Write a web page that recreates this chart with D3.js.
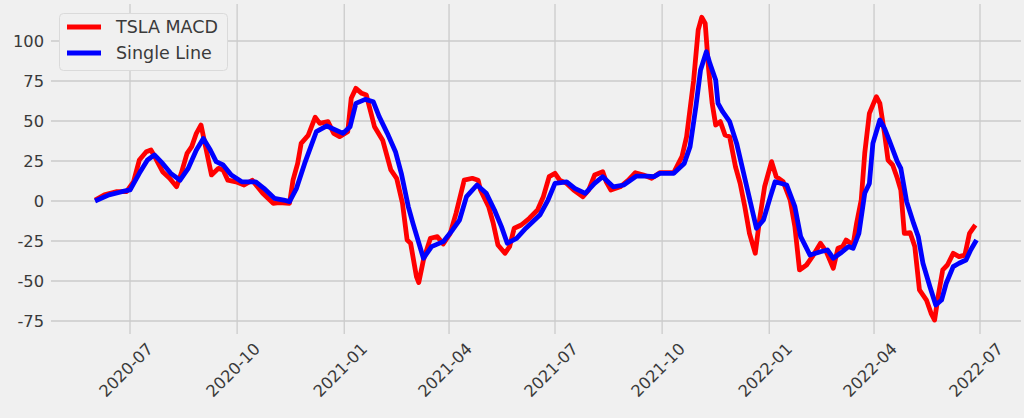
<!DOCTYPE html>
<html><head><meta charset="utf-8">
<script src="https://cdn.jsdelivr.net/npm/d3@7"></script>
<style>html,body{margin:0;padding:0;background:#f0f0f0;}svg{display:block;}</style>
</head><body><svg id="chart" width="1024" height="418"></svg>
<script>
const seriesNames = ["TSLA MACD", "Single Line"];
const seriesColors = ["#ff0000", "#0000ff"];

const macdDates = [
"2020-06-01","2020-06-09","2020-06-19","2020-06-28","2020-07-04","2020-07-09","2020-07-15","2020-07-19","2020-07-23","2020-07-29",
"2020-08-04","2020-08-10","2020-08-14","2020-08-19","2020-08-23","2020-08-27","2020-08-31","2020-09-03","2020-09-09","2020-09-15",
"2020-09-19","2020-09-23","2020-09-30","2020-10-07","2020-10-14","2020-10-23","2020-11-01","2020-11-06","2020-11-15","2020-11-18",
"2020-11-22","2020-11-25","2020-12-01","2020-12-07","2020-12-11","2020-12-18","2020-12-23","2020-12-28","2021-01-04","2021-01-07",
"2021-01-11","2021-01-16","2021-01-20","2021-01-27","2021-02-03","2021-02-10","2021-02-15","2021-02-20","2021-02-24","2021-02-27",
"2021-03-04","2021-03-06","2021-03-10","2021-03-16","2021-03-22","2021-03-27","2021-04-02","2021-04-07","2021-04-14","2021-04-21",
"2021-04-26","2021-04-28","2021-05-05","2021-05-09","2021-05-13","2021-05-19","2021-05-23","2021-05-27","2021-06-02","2021-06-09",
"2021-06-16","2021-06-21","2021-06-26","2021-07-01","2021-07-05","2021-07-11","2021-07-17","2021-07-25","2021-07-30","2021-08-04",
"2021-08-11","2021-08-14","2021-08-18","2021-08-26","2021-09-02","2021-09-08","2021-09-15","2021-09-22","2021-09-29","2021-10-11",
"2021-10-18","2021-10-22","2021-10-28","2021-11-01","2021-11-04","2021-11-07","2021-11-10","2021-11-13","2021-11-16","2021-11-20",
"2021-11-24","2021-11-28","2021-12-03","2021-12-07","2021-12-11","2021-12-15","2021-12-20","2021-12-24","2021-12-28","2022-01-03",
"2022-01-07","2022-01-13","2022-01-19","2022-01-23","2022-01-27","2022-02-02","2022-02-07","2022-02-14","2022-02-19","2022-02-25",
"2022-03-01","2022-03-05","2022-03-08","2022-03-14","2022-03-17","2022-03-21","2022-03-24","2022-03-28","2022-04-03","2022-04-06",
"2022-04-10","2022-04-13","2022-04-17","2022-04-21","2022-04-24","2022-04-27","2022-05-02","2022-05-06","2022-05-10","2022-05-16",
"2022-05-20","2022-05-23","2022-05-26","2022-05-30","2022-06-03","2022-06-08","2022-06-13","2022-06-18","2022-06-22","2022-06-27"];
const macdValues = [
0.6,3.8,5.8,5.8,12,25.6,30.8,31.9,26.7,18.3,
14.2,8.9,17.3,29.8,34,42.3,47.5,37,16.3,20.4,
19.4,13,12,10,13,4.8,-1.4,-1,-1.4,13,
23.5,36,41,52.3,48.5,49.6,42.3,40.2,43.3,64.2,
70.4,67.3,66.2,46.4,38,19.4,14.2,-1.4,-24.4,-26.4,
-47.3,-51,-36.9,-23.3,-22.3,-26.9,-20.2,-7.7,13,14.2,
13,6.9,-3.5,-14,-27.5,-32.7,-28.5,-17,-15,-10.8,
-5.6,2.7,15.2,17.3,13,11,6.9,2.7,6.9,16.2,
18.3,12,6.9,8.9,13,17.7,16.2,14.2,17.7,17.7,
27.7,40.2,75,107,114.8,111,81.9,61,47.5,49.6,
41.2,40.2,21.4,11,-3.5,-20.2,-32.7,-10,8.9,24.6,
15.2,12,0.6,-16,-43.1,-40,-34.8,-26.4,-31.7,-42,
-29.6,-28.5,-24.4,-27.5,-14,0.6,29.8,54.8,65.2,61,
42.3,25.6,22.5,14.2,6.9,-20.2,-19.8,-28.5,-55.6,-61.9,
-70.2,-74.4,-59.8,-43.1,-40,-32.7,-34.8,-33.8,-20.2,-15];

const signalDates = [
"2020-06-01","2020-06-13","2020-06-24","2020-07-01","2020-07-09","2020-07-16","2020-07-22","2020-07-29","2020-08-05","2020-08-13",
"2020-08-20","2020-08-27","2020-09-02","2020-09-08","2020-09-13","2020-09-19","2020-09-26","2020-10-05","2020-10-17","2020-10-24",
"2020-11-02","2020-11-10","2020-11-15","2020-11-21","2020-11-28","2020-12-08","2020-12-17","2020-12-31","2021-01-06","2021-01-11",
"2021-01-19","2021-01-26","2021-01-31","2021-02-07","2021-02-14","2021-02-19","2021-02-25","2021-03-01","2021-03-10","2021-03-17",
"2021-03-27","2021-04-04","2021-04-10","2021-04-16","2021-04-25","2021-05-03","2021-05-10","2021-05-16","2021-05-21","2021-05-29",
"2021-06-06","2021-06-18","2021-06-25","2021-07-01","2021-07-11","2021-07-18","2021-07-27","2021-08-04","2021-08-11","2021-08-20",
"2021-08-29","2021-09-09","2021-09-18","2021-09-24","2021-09-29","2021-10-11","2021-10-20","2021-10-25","2021-10-30","2021-11-03",
"2021-11-08","2021-11-11","2021-11-16","2021-11-18","2021-11-22","2021-11-28","2021-12-04","2021-12-10","2021-12-16","2021-12-21",
"2021-12-27","2022-01-02","2022-01-06","2022-01-16","2022-01-23","2022-01-28","2022-02-05","2022-02-14","2022-02-20","2022-02-25",
"2022-03-03","2022-03-10","2022-03-14","2022-03-19","2022-03-24","2022-03-28","2022-03-31","2022-04-06","2022-04-10","2022-04-14",
"2022-04-21","2022-04-24","2022-04-29","2022-05-05","2022-05-09","2022-05-13","2022-05-19","2022-05-24","2022-05-29","2022-06-02",
"2022-06-08","2022-06-13","2022-06-19","2022-06-23","2022-06-28"];
const signalValues = [
0,3.8,5.8,6.9,17.3,25.6,28.8,23.5,17.3,13,
20.4,31.9,39,31.9,24.6,22.5,16.3,12,12,7.9,
1.7,0.6,-0.4,7.9,23.5,43.3,46.9,42.3,46.4,61,
63.5,62,52.7,42.3,30.8,17.3,-3.5,-14,-35.8,-28.5,
-25.4,-18.1,-11.9,2.7,10,4.8,-5.6,-16,-26.4,-23.3,
-17,-8.8,0.6,11,12,7.9,4.8,11,15.2,8.9,
10,15.6,15.6,15.2,17.3,17.3,23.5,34,59,81.9,
93.3,86,75.6,61,55.8,49.6,36,17.3,-1.4,-17,
-11.9,2.7,12,10,-3.5,-22.3,-33.8,-31.7,-30.6,-35.8,
-32.7,-28.5,-29.6,-20.2,4.8,11,36,50.6,45.4,38.1,
24.6,20.4,-0.4,-14,-22.3,-38.9,-53.6,-65,-61.9,-51.4,
-41,-38.9,-36.9,-30.6,-24.4];

const yTicks = [-75, -50, -25, 0, 25, 50, 75, 100];
const xTickDates = ["2020-07-01","2020-10-01","2021-01-01","2021-04-01","2021-07-01","2021-10-01","2022-01-01","2022-04-01","2022-07-01"];

const parse = d3.utcParse("%Y-%m-%d");
const fmt = d3.utcFormat("%Y-%m");
const svg = d3.select("#chart");
const W = 1024, H = 418;
const plot = {left: 51, right: 1021, top: 4, bottom: 334};

svg.append("rect").attr("width", W).attr("height", H).attr("fill", "#f0f0f0");

const x = d3.scaleUtc().domain([parse("2020-07-01"), parse("2022-07-01")]).range([130, 980]);
const y = d3.scaleLinear().domain([0, 100]).range([201, 41]);

const grid = svg.append("g");
grid.selectAll("line.h").data(yTicks).join("line")
  .attr("x1", plot.left).attr("x2", plot.right)
  .attr("y1", d => y(d)).attr("y2", d => y(d))
  .attr("stroke", "#cbcbcb").attr("stroke-width", 1.3);
grid.selectAll("line.v").data(xTickDates).join("line")
  .attr("x1", d => x(parse(d))).attr("x2", d => x(parse(d)))
  .attr("y1", plot.top).attr("y2", plot.bottom)
  .attr("stroke", "#cbcbcb").attr("stroke-width", 1.3);

const font = "DejaVu Sans, sans-serif";
svg.append("g").selectAll("text").data(yTicks).join("text")
  .attr("x", 44).attr("y", d => y(d))
  .attr("text-anchor", "end").attr("dominant-baseline", "central")
  .attr("font-family", font).attr("font-size", 16.3).attr("fill", "#3a3a3a")
  .text(d => d);

svg.append("g").selectAll("text").data(xTickDates).join("text")
  .attr("transform", d => `translate(${x(parse(d)) + 24},350) rotate(-45)`)
  .attr("text-anchor", "end")
  .attr("font-family", font).attr("font-size", 16.3).attr("fill", "#3a3a3a")
  .text(d => fmt(parse(d)));

const line = d3.line().x(d => x(d[0])).y(d => y(d[1]));
const macd = macdDates.map((d, i) => [parse(d), macdValues[i]]);
const signal = signalDates.map((d, i) => [parse(d), signalValues[i]]);

[macd, signal].forEach((data, i) => {
  svg.append("path").datum(data)
    .attr("d", line).attr("fill", "none")
    .attr("stroke", seriesColors[i]).attr("stroke-width", 4.8)
    .attr("stroke-linejoin", "round").attr("stroke-linecap", "butt");
});

const leg = svg.append("g");
leg.append("rect").attr("x", 59.5).attr("y", 13.5).attr("width", 168).attr("height", 57)
  .attr("rx", 4).attr("fill", "#f0f0f0").attr("stroke", "#dadada").attr("stroke-width", 1);
seriesNames.forEach((name, i) => {
  const ly = 27 + i * 26;
  leg.append("line").attr("x1", 67).attr("x2", 101).attr("y1", ly).attr("y2", ly)
    .attr("stroke", seriesColors[i]).attr("stroke-width", 4.8);
  leg.append("text").attr("x", 116).attr("y", ly).attr("dominant-baseline", "central")
    .attr("font-family", font).attr("font-size", 17.5).attr("fill", "#3a3a3a").text(name);
});
</script></body></html>
